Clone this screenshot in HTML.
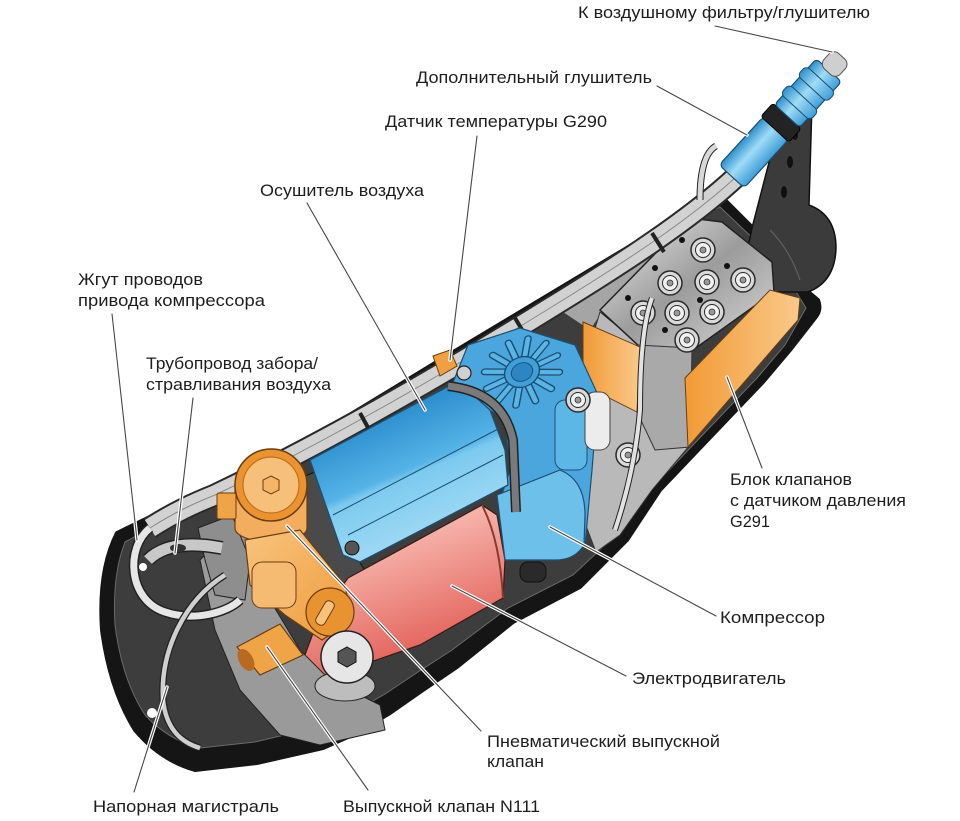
<!DOCTYPE html>
<html><head><meta charset="utf-8">
<style>
html,body{margin:0;padding:0;background:#fff;}
svg{display:block;}
text{font-family:"Liberation Sans","DejaVu Sans",sans-serif;font-size:16.5px;fill:#1e1e1e;}
</style></head><body>
<svg width="960" height="821" viewBox="0 0 960 821" xmlns="http://www.w3.org/2000/svg">
<defs>
 <linearGradient id="gBlueT" x1="0" y1="0" x2="0" y2="1">
  <stop offset="0" stop-color="#2e8fcc"/><stop offset="0.45" stop-color="#9fdcf6"/><stop offset="1" stop-color="#3d9dd6"/>
 </linearGradient>
 <linearGradient id="gDryer" gradientUnits="userSpaceOnUse" x1="385" y1="418" x2="430" y2="525">
  <stop offset="0" stop-color="#2f90cf"/><stop offset="0.48" stop-color="#55b3e6"/><stop offset="0.55" stop-color="#7ccaef"/><stop offset="1" stop-color="#9ad7f3"/>
 </linearGradient>
 <linearGradient id="gRed" gradientUnits="userSpaceOnUse" x1="410" y1="535" x2="450" y2="645">
  <stop offset="0" stop-color="#f6b3aa"/><stop offset="1" stop-color="#e2625a"/>
 </linearGradient>
 <linearGradient id="gOr" x1="0" y1="0" x2="1" y2="1">
  <stop offset="0" stop-color="#f8c47e"/><stop offset="1" stop-color="#ee9a3a"/>
 </linearGradient>
 <linearGradient id="gOrFace" x1="0" y1="0" x2="1" y2="0">
  <stop offset="0" stop-color="#f29a35"/><stop offset="1" stop-color="#f9c98a"/>
 </linearGradient>
 <linearGradient id="gMetal" x1="0" y1="0" x2="1" y2="1">
  <stop offset="0" stop-color="#ececec"/><stop offset="0.5" stop-color="#9c9c9c"/><stop offset="1" stop-color="#dadada"/>
 </linearGradient>
 <g id="bolt"><circle r="12" fill="#d9d9d9" stroke="#2a2a2a" stroke-width="1.5"/><circle r="7.5" fill="#f2f2f2" stroke="#2a2a2a"/><circle r="3" fill="#999" stroke="#333" stroke-width="0.8"/></g>
</defs>

<!-- tray -->
<path d="M117,533 L160,512 L220,485 L300,445 L440,360 L540,300 L640,240 L720,195 L760,235 L800,285 L818,300 Q822,310 815,318 L790,350 L763,382 L700,448 L660,490 L627,540 L580,587 L513,622 L457,667 L423,690 L390,713 L357,733 L323,748 L257,763 L195,770 Q160,760 135,730 Q110,690 102,630 Q98,570 117,533 Z" fill="#151515" stroke="#151515" stroke-width="4" stroke-linejoin="round"/>
<path d="M125,542 L165,520 L225,492 L300,452 L440,367 L540,307 L640,247 L720,207 L760,245 L795,290 L806,308 L785,345 L757,378 L693,445 L652,488 L618,533 L573,575 L508,608 L452,650 L418,672 L385,694 L352,713 L318,727 L255,742 L200,748 Q168,740 145,715 Q122,680 115,625 Q112,575 125,542 Z" fill="#3d3d3d" stroke="#6a6a6a" stroke-width="1"/>
<path d="M560,310 L640,255 L700,225 L690,240 L610,300 L590,330 Z" fill="#a5a5a5"/>
<circle cx="143" cy="567" r="4" fill="#fff"/>
<circle cx="152" cy="713" r="5" fill="#fff"/>

<!-- bracket lobe -->
<path d="M780,120 L812,103 L809,205 Q836,215 836,248 Q835,282 808,292 L770,292 L745,262 L752,228 Z" fill="#3b3b3b" stroke="#111" stroke-width="1.5"/>
<ellipse cx="795" cy="135" rx="3" ry="5" fill="#111"/>
<ellipse cx="790" cy="162" rx="3" ry="6" fill="#111"/>
<ellipse cx="784" cy="192" rx="3" ry="6" fill="#111"/>
<path d="M770,230 Q790,250 800,280" stroke="#666" stroke-width="1" fill="none"/>

<!-- floor near block -->
<path d="M575,395 L600,312 L640,345 L690,445 L652,490 L620,535 L596,552 L578,505 L585,460 Z" fill="#b9b9b9" stroke="#333" stroke-width="1"/>
<use href="#bolt" x="628" y="455"/>

<!-- valve block -->
<path d="M600,310 L690,218 L722,222 L772,262 L774,292 L700,345 L690,352 L640,347 Z" fill="url(#gMetal)" stroke="#222" stroke-width="1.5"/>
<path d="M637,345 L692,348 L690,447 L655,450 L637,412 Z" fill="#a9a9a9" stroke="#333"/>
<path d="M583,322 L640,347 L637,412 L583,385 Z" fill="url(#gOrFace)" stroke="#6a3d10" stroke-width="1"/>
<path d="M685,378 L770,290 L800,298 L798,320 L688,447 Z" fill="url(#gOrFace)" stroke="#6a3d10" stroke-width="1"/>
<g fill="#111"><circle cx="682" cy="240" r="3"/><circle cx="655" cy="268" r="3"/><circle cx="628" cy="298" r="3"/><circle cx="700" cy="300" r="3"/><circle cx="727" cy="266" r="3"/><circle cx="665" cy="330" r="3"/></g>
<use href="#bolt" x="703" y="250"/>
<use href="#bolt" x="670" y="283"/>
<use href="#bolt" x="707" y="282"/>
<use href="#bolt" x="743" y="280"/>
<use href="#bolt" x="643" y="313"/>
<use href="#bolt" x="677" y="313"/>
<use href="#bolt" x="712" y="312"/>
<use href="#bolt" x="687" y="340"/>
<path d="M652,298 Q640,330 640,410 Q635,470 615,530" fill="none" stroke="#222" stroke-width="6"/>
<path d="M652,298 Q640,330 640,410 Q635,470 615,530" fill="none" stroke="#e2e2e2" stroke-width="4"/>

<!-- pipes bundle -->
<path d="M150,528 C175,512 195,503 215,495 C330,440 450,370 550,308 C620,265 690,220 737,176" fill="none" stroke="#2a2a2a" stroke-width="23"/>
<path d="M150,528 C175,512 195,503 215,495 C330,440 450,370 550,308 C620,265 690,220 737,176" fill="none" stroke="#d2d2d2" stroke-width="19"/>
<path d="M150,528 C175,512 195,503 215,495 C330,440 450,370 550,308 C620,265 690,220 737,176" fill="none" stroke="#8a8a8a" stroke-width="1"/>
<path d="M700,200 Q700,155 716,146" fill="none" stroke="#222" stroke-width="7"/>
<path d="M700,200 Q700,155 716,146" fill="none" stroke="#d8d8d8" stroke-width="5"/>
<g stroke="#222" stroke-width="4"><line x1="360" y1="413" x2="371" y2="433"/><line x1="515" y1="318" x2="527" y2="338"/><line x1="652" y1="233" x2="664" y2="252"/></g>

<!-- blue muffler tube -->
<g transform="translate(733,175) rotate(-47.5)">
 <rect x="-2" y="-17" width="66" height="34" rx="5" fill="url(#gBlueT)" stroke="#1d4f70" stroke-width="1.2"/>
 <rect x="62" y="-19" width="18" height="38" rx="3" fill="#232323" stroke="#000"/>
 <rect x="80" y="-17" width="62" height="34" rx="4" fill="url(#gBlueT)" stroke="#1d4f70" stroke-width="1.2"/>
 <rect x="92" y="-20" width="13" height="40" rx="5" fill="url(#gBlueT)" stroke="#1d4f70"/>
 <rect x="117" y="-20" width="13" height="40" rx="5" fill="url(#gBlueT)" stroke="#1d4f70"/>
 <rect x="140" y="-11" width="21" height="22" rx="7" fill="#cfcfcf" stroke="#555"/>
</g>

<!-- dark flange -->
<path d="M300,478 L320,470 L355,555 L368,575 L345,590 L318,598 L300,560 Z" fill="#4a4a4a" stroke="#111"/>

<!-- red motor -->
<path d="M348,578 L482,505 L497,515 L505,560 L503,598 L420,645 L330,676 L300,668 L318,620 Z" fill="url(#gRed)" stroke="#3a1a18" stroke-width="1.2"/>
<path d="M482,505 Q500,540 503,598" fill="none" stroke="#8a3a35" stroke-width="2"/>

<!-- compressor -->
<path d="M452,385 L468,345 L520,328 L575,345 L598,395 L592,470 L585,545 L560,560 L505,560 L500,500 L510,470 L505,420 Z" fill="#4aa6dc" stroke="#1d4f70" stroke-width="1.2"/>
<rect x="555" y="400" width="32" height="70" rx="10" fill="#5cb6e6" stroke="#1d4f70"/>
<rect x="585" y="392" width="25" height="58" rx="10" fill="#ececec" stroke="#444"/>
<use href="#bolt" x="578" y="400"/>
<path d="M497,495 L560,470 Q585,480 585,515 L584,545 Q575,560 555,560 L505,560 Z" fill="#6cc0ea" stroke="#1d4f70" stroke-width="1.2"/>
<rect x="520" y="562" width="26" height="20" rx="8" fill="#2a2a2a" stroke="#111"/>

<!-- fan -->
<g transform="translate(522,372) rotate(-25) scale(1,0.82)">
 <g stroke="#1d4f70" stroke-width="8" stroke-linecap="round">
  <line x1="14" y1="0" x2="39" y2="0"/><line x1="14" y1="0" x2="39" y2="0" transform="rotate(30)"/><line x1="14" y1="0" x2="39" y2="0" transform="rotate(60)"/><line x1="14" y1="0" x2="39" y2="0" transform="rotate(90)"/><line x1="14" y1="0" x2="39" y2="0" transform="rotate(120)"/><line x1="14" y1="0" x2="39" y2="0" transform="rotate(150)"/><line x1="14" y1="0" x2="39" y2="0" transform="rotate(180)"/><line x1="14" y1="0" x2="39" y2="0" transform="rotate(210)"/><line x1="14" y1="0" x2="39" y2="0" transform="rotate(240)"/><line x1="14" y1="0" x2="39" y2="0" transform="rotate(270)"/><line x1="14" y1="0" x2="39" y2="0" transform="rotate(300)"/><line x1="14" y1="0" x2="39" y2="0" transform="rotate(330)"/>
 </g>
 <g stroke="#5ab4e4" stroke-width="5" stroke-linecap="round">
  <line x1="14" y1="0" x2="39" y2="0"/><line x1="14" y1="0" x2="39" y2="0" transform="rotate(30)"/><line x1="14" y1="0" x2="39" y2="0" transform="rotate(60)"/><line x1="14" y1="0" x2="39" y2="0" transform="rotate(90)"/><line x1="14" y1="0" x2="39" y2="0" transform="rotate(120)"/><line x1="14" y1="0" x2="39" y2="0" transform="rotate(150)"/><line x1="14" y1="0" x2="39" y2="0" transform="rotate(180)"/><line x1="14" y1="0" x2="39" y2="0" transform="rotate(210)"/><line x1="14" y1="0" x2="39" y2="0" transform="rotate(240)"/><line x1="14" y1="0" x2="39" y2="0" transform="rotate(270)"/><line x1="14" y1="0" x2="39" y2="0" transform="rotate(300)"/><line x1="14" y1="0" x2="39" y2="0" transform="rotate(330)"/>
 </g>
 <circle r="18" fill="#3f9fd8" stroke="#1d4f70" stroke-width="1.5"/>
 <circle r="11" fill="#2b86c2" stroke="#1d4f70"/>
</g>

<!-- dryer -->
<path d="M310,460 L447,387 L470,392 L490,410 L505,450 L508,485 L360,562 L343,555 Z" fill="url(#gDryer)" stroke="#1d4f70" stroke-width="1.3"/>
<path d="M333,515 L500,428" stroke="#1d4f70" stroke-width="1" fill="none"/>
<path d="M348,535 L503,455" stroke="#1d4f70" stroke-width="1" fill="none"/>
<circle cx="352" cy="548" r="7" fill="#555" stroke="#111"/>
<!-- clamp -->
<path d="M448,386 Q503,392 513,440 L516,512" fill="none" stroke="#222" stroke-width="10"/>
<path d="M448,386 Q503,392 513,440 L516,512" fill="none" stroke="#7a7a7a" stroke-width="7"/>

<!-- temp sensor -->
<path d="M433,356 L450,350 L457,366 L440,376 Z" fill="#f0a040" stroke="#6a3d10"/>
<circle cx="464" cy="373" r="7" fill="#d0d0d0" stroke="#222" stroke-width="1.2"/>

<!-- left pipes & gray parts -->
<path d="M200,560 L240,520 L270,600 L300,650 L330,680 L380,705 L385,730 L320,745 L280,735 L240,690 L215,630 Z" fill="#9a9a9a" stroke="#222"/>
<path d="M198,528 L232,515 L250,560 L245,600 L215,595 L205,560 Z" fill="#8e8e8e" stroke="#222"/>
<path d="M148,560 Q170,538 222,548" fill="none" stroke="#222" stroke-width="14"/>
<path d="M148,560 Q170,538 222,548" fill="none" stroke="#c8c8c8" stroke-width="11"/>
<ellipse cx="178" cy="548" rx="8" ry="4" fill="#333"/>
<path d="M150,528 C125,548 128,600 165,612 C195,622 228,612 240,600" fill="none" stroke="#222" stroke-width="10"/>
<path d="M150,528 C125,548 128,600 165,612 C195,622 228,612 240,600" fill="none" stroke="#e6e6e6" stroke-width="7"/>
<path d="M225,575 C185,600 160,650 163,700 C166,728 180,742 200,748" fill="none" stroke="#222" stroke-width="7"/>
<path d="M225,575 C185,600 160,650 163,700 C166,728 180,742 200,748" fill="none" stroke="#cfcfcf" stroke-width="4.5"/>

<!-- orange valve -->
<path d="M235,485 L235,528 A36,14 0 0 0 307,528 L307,485 Z" fill="#f2ae5e" stroke="#6a3d10" stroke-width="1.2"/>
<rect x="217" y="493" width="19" height="26" rx="2" fill="#f0a448" stroke="#6a3d10"/>
<path d="M245,540 L300,530 L345,585 L352,620 L322,640 L285,615 L250,585 Z" fill="url(#gOr)" stroke="#6a3d10" stroke-width="1.2"/>
<rect x="252" y="562" width="44" height="46" rx="10" fill="#f6bb72" stroke="#6a3d10"/>
<circle cx="330" cy="612" r="24" fill="#e99230" stroke="#6a3d10" stroke-width="1.2"/>
<rect x="320" y="600" width="10" height="26" rx="4" fill="#f7c27c" stroke="#6a3d10" transform="rotate(30 325 613)"/>
<circle cx="271" cy="485" r="36" fill="#ea9330" stroke="#6a3d10" stroke-width="1.5"/>
<circle cx="271" cy="485" r="28" fill="#f7c07a" stroke="#c07020" stroke-width="1.2"/>
<polygon points="271,476 279,480 279,490 271,494 263,490 263,480" fill="#f4b565" stroke="#6a3d10"/>
<path d="M237,647 L280,624 L303,655 L260,675 Z" fill="#f0a448" stroke="#6a3d10" stroke-width="1.2"/>
<ellipse cx="246" cy="660" rx="7" ry="12" fill="#b86a20" transform="rotate(-30 246 660)"/>

<!-- bolt post -->
<ellipse cx="345" cy="686" rx="30" ry="15" fill="#bdbdbd" stroke="#222"/>
<circle cx="347" cy="657" r="26" fill="#e6e6e6" stroke="#222" stroke-width="1.5"/>
<polygon points="347,647 356,652 356,662 347,667 338,662 338,652" fill="#555" stroke="#111"/>

<!-- leader lines -->
<g fill="none" stroke-linecap="round">
 <g stroke="#fff" stroke-width="3.5">
  <line x1="715" y1="26" x2="832" y2="52"/>
  <line x1="657" y1="86" x2="747" y2="135"/>
  <line x1="477" y1="136" x2="450" y2="360"/>
  <line x1="307" y1="203" x2="425" y2="410"/>
  <line x1="112" y1="314" x2="137" y2="540"/>
  <line x1="193" y1="398" x2="175" y2="553"/>
  <line x1="727" y1="377" x2="762" y2="468"/>
  <line x1="716" y1="616" x2="550" y2="527"/>
  <line x1="626" y1="676" x2="452" y2="586"/>
  <line x1="481" y1="731" x2="287" y2="526"/>
  <line x1="368" y1="790" x2="267" y2="647"/>
  <line x1="134" y1="792" x2="167" y2="687"/>
 </g>
 <g stroke="#474747" stroke-width="1.1">
  <line x1="715" y1="26" x2="832" y2="52"/>
  <line x1="657" y1="86" x2="747" y2="135"/>
  <line x1="477" y1="136" x2="450" y2="360"/>
  <line x1="307" y1="203" x2="425" y2="410"/>
  <line x1="112" y1="314" x2="137" y2="540"/>
  <line x1="193" y1="398" x2="175" y2="553"/>
  <line x1="727" y1="377" x2="762" y2="468"/>
  <line x1="716" y1="616" x2="550" y2="527"/>
  <line x1="626" y1="676" x2="452" y2="586"/>
  <line x1="481" y1="731" x2="287" y2="526"/>
  <line x1="368" y1="790" x2="267" y2="647"/>
  <line x1="134" y1="792" x2="167" y2="687"/>
 </g>
</g>

<!-- labels -->
<text x="578" y="18" textLength="292" lengthAdjust="spacingAndGlyphs">К воздушному фильтру/глушителю</text>
<text x="416" y="83" textLength="236" lengthAdjust="spacingAndGlyphs">Дополнительный глушитель</text>
<text x="385" y="127" textLength="222" lengthAdjust="spacingAndGlyphs">Датчик температуры G290</text>
<text x="260" y="196" textLength="164" lengthAdjust="spacingAndGlyphs">Осушитель воздуха</text>
<text x="78" y="285" textLength="125" lengthAdjust="spacingAndGlyphs">Жгут проводов</text>
<text x="78" y="306" textLength="187" lengthAdjust="spacingAndGlyphs">привода компрессора</text>
<text x="146" y="369" textLength="172" lengthAdjust="spacingAndGlyphs">Трубопровод забора/</text>
<text x="146" y="390" textLength="185" lengthAdjust="spacingAndGlyphs">стравливания воздуха</text>
<text x="730" y="485" textLength="122" lengthAdjust="spacingAndGlyphs">Блок клапанов</text>
<text x="730" y="506" textLength="176" lengthAdjust="spacingAndGlyphs">с датчиком давления</text>
<text x="730" y="527" textLength="40" lengthAdjust="spacingAndGlyphs">G291</text>
<text x="720" y="623" textLength="105" lengthAdjust="spacingAndGlyphs">Компрессор</text>
<text x="632" y="684" textLength="154" lengthAdjust="spacingAndGlyphs">Электродвигатель</text>
<text x="487" y="747" textLength="233" lengthAdjust="spacingAndGlyphs">Пневматический выпускной</text>
<text x="487" y="767" textLength="57" lengthAdjust="spacingAndGlyphs">клапан</text>
<text x="93" y="812" textLength="186" lengthAdjust="spacingAndGlyphs">Напорная магистраль</text>
<text x="343" y="812" textLength="197" lengthAdjust="spacingAndGlyphs">Выпускной клапан N111</text>
</svg>
</body></html>
